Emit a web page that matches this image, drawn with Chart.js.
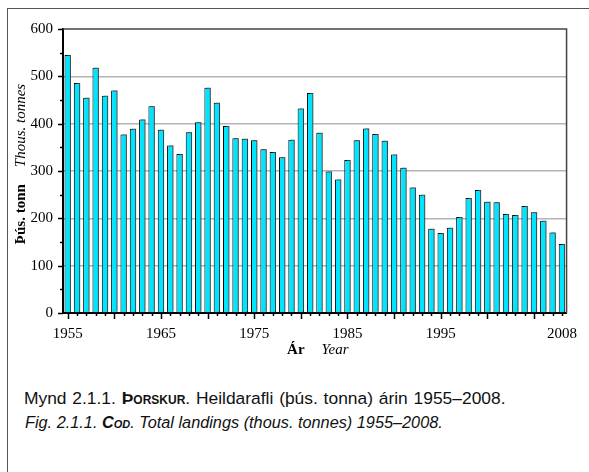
<!DOCTYPE html>
<html>
<head>
<meta charset="utf-8">
<script src="https://cdn.jsdelivr.net/npm/chart.js@4.4.1/dist/chart.umd.min.js"></script>
<style>
  html, body { margin: 0; padding: 0; background: #fff; width: 589px; height: 472px; overflow: hidden; }
  #frame { position: absolute; left: 7px; top: 8px; width: 660px; height: 540px; border: 1.5px solid #555; }
  #wrap { position: absolute; left: 0; top: 0; width: 589px; height: 365px; }
  .cap { position: absolute; font-family: "Liberation Sans", Arial, sans-serif; color: #111; white-space: nowrap; line-height: 20px; }
  .sc { font-weight: bold; font-variant: small-caps; }
  #cap1 { left: 24px; top: 388px; font-size: 17.4px; word-spacing: 1px; }
  #cap2 { left: 25px; top: 412px; font-size: 16.3px; font-style: italic; }
</style>
</head>
<body>
<div id="frame"></div>
<div id="wrap"><canvas id="codChart"></canvas></div>
<div class="cap" id="cap1">Mynd 2.1.1. <span class="sc">Þorskur</span>. Heildarafli (þús. tonna) árin 1955–2008.</div>
<div class="cap" id="cap2">Fig. 2.1.1. <span class="sc">Cod</span>. Total landings (thous. tonnes) 1955–2008.</div>
<script>
  /* -------------------------------------------------------
   DATA: Cod total landings, thous. tonnes
  ------------------------------------------------------- */
  const years = [
    "1955", "1956", "1957", "1958", "1959", "1960", "1961", "1962", "1963", "1964",
    "1965", "1966", "1967", "1968", "1969", "1970", "1971", "1972", "1973", "1974",
    "1975", "1976", "1977", "1978", "1979", "1980", "1981", "1982", "1983", "1984",
    "1985", "1986", "1987", "1988", "1989", "1990", "1991", "1992", "1993", "1994",
    "1995", "1996", "1997", "1998", "1999", "2000", "2001", "2002", "2003", "2004",
    "2005", "2006", "2007", "2008",
  ];
  const landings = [
    545, 486, 455, 518, 459, 470, 377, 389, 409, 437,
    387, 354, 336, 382, 403, 476, 444, 395, 369, 368,
    365, 346, 340, 329, 366, 432, 465, 381, 299, 282,
    323, 365, 390, 378, 364, 335, 307, 265, 250, 178,
    169, 180, 203, 243, 260, 235, 234, 209, 207, 226,
    213, 195, 170, 146,
  ];
  const xTickLabels = ["1955", "1965", "1975", "1985", "1995", "2008"];
  const yTitle = ["Þús. tonn", "Thous. tonnes"];
  const xTitle = ["Ár", "Year"];

  const serif = '"Liberation Serif", "Times New Roman", serif';

  /* -------------------------------------------------------
   Bar shadow, tick marks, frame and two-style axis titles
  ------------------------------------------------------- */
  const decor = {
    id: "decor",
    beforeDatasetsDraw(chart) {
      const ctx = chart.ctx;
      ctx.save();
      ctx.shadowColor = "rgba(80,80,80,0.75)";
      ctx.shadowOffsetX = 2;
      ctx.shadowOffsetY = -1;
      ctx.shadowBlur = 0;
    },
    afterDatasetsDraw(chart) {
      chart.ctx.restore();
    },
    afterDraw(chart) {
      const ctx = chart.ctx;
      const a = chart.chartArea;
      const xs = chart.scales.x;
      const ys = chart.scales.y;
      ctx.save();

      // frame top + right
      ctx.strokeStyle = "#444";
      ctx.lineWidth = 1.5;
      ctx.beginPath();
      ctx.moveTo(a.left, a.top);
      ctx.lineTo(a.right, a.top);
      ctx.lineTo(a.right, a.bottom);
      ctx.stroke();

      // tick marks
      ctx.strokeStyle = "#000";
      ctx.lineWidth = 1.5;
      ctx.beginPath();
      years.forEach((y, i) => {
        const px = Math.round(xs.getPixelForValue(i)) + 0.5;
        const len = Number(y) % 5 === 0 ? 6 : 3;
        ctx.moveTo(px, a.bottom);
        ctx.lineTo(px, a.bottom + len);
      });
      for (let v = 0; v <= 600; v += 50) {
        const py = Math.round(ys.getPixelForValue(v)) + 0.5;
        const len = v % 100 === 0 ? 5 : 3;
        ctx.moveTo(a.left - len, py);
        ctx.lineTo(a.left, py);
      }
      ctx.stroke();

      // axis titles
      ctx.fillStyle = "#000";
      ctx.textBaseline = "middle";
      ctx.textAlign = "left";
      const fb = "bold 15px " + serif;
      const fi = "italic 15px " + serif;

      ctx.font = fb;
      const yw1 = ctx.measureText(yTitle[0]).width;
      ctx.font = fi;
      const yw2 = ctx.measureText(yTitle[1]).width;
      const ygap = 17;
      ctx.save();
      ctx.translate(21, (a.top + a.bottom) / 2 - 7);
      ctx.rotate(-Math.PI / 2);
      let x0 = -(yw1 + ygap + yw2) / 2;
      ctx.font = fb;
      ctx.fillText(yTitle[0], x0, 0);
      ctx.font = fi;
      ctx.fillText(yTitle[1], x0 + yw1 + ygap, 0);
      ctx.restore();

      ctx.font = fb;
      const xw1 = ctx.measureText(xTitle[0]).width;
      ctx.font = fi;
      const xw2 = ctx.measureText(xTitle[1]).width;
      const xgap = 17;
      x0 = (a.left + a.right) / 2 + 3 - (xw1 + xgap + xw2) / 2;
      ctx.font = fb;
      ctx.fillText(xTitle[0], x0, 350);
      ctx.font = fi;
      ctx.fillText(xTitle[1], x0 + xw1 + xgap, 350);

      ctx.restore();
    },
  };

  /* -------------------------------------------------------
   CHART
  ------------------------------------------------------- */
  new Chart(document.getElementById("codChart"), {
    type: "bar",
    data: {
      labels: years,
      datasets: [
        {
          data: landings,
          backgroundColor: "#00e5ff",
          borderColor: "#000",
          borderWidth: 1,
          categoryPercentage: 1,
          barPercentage: 0.68,
        },
      ],
    },
    options: {
      responsive: true,
      maintainAspectRatio: false,
      animation: false,
      layout: { padding: { left: 0, top: 29, right: 10, bottom: 0 } },
      plugins: { legend: { display: false }, tooltip: { enabled: false } },
      scales: {
        x: {
          offset: true,
          grid: { display: true, drawOnChartArea: false, drawTicks: false, offset: false },
          border: { display: true, color: "#000", width: 2 },
          ticks: {
            autoSkip: false,
            maxRotation: 0,
            padding: 12,
            color: "#000",
            font: { family: serif, size: 15 },
            callback: (v, i) => (xTickLabels.includes(years[i]) ? years[i] : ""),
          },
          afterFit: (s) => { s.height = 52; },
        },
        y: {
          min: 0,
          max: 600,
          ticks: {
            stepSize: 100,
            padding: 10,
            color: "#000",
            font: { family: serif, size: 15 },
          },
          grid: {
            drawTicks: false,
            lineWidth: 1.5,
            color: (c) => (c.tick && c.tick.value > 0 && c.tick.value < 600 ? "#b4b4b4" : "rgba(0,0,0,0)"),
          },
          border: { color: "#000", width: 2 },
          afterFit: (s) => { s.width = 63; },
        },
      },
    },
    plugins: [decor],
  });
</script>
</body>
</html>
